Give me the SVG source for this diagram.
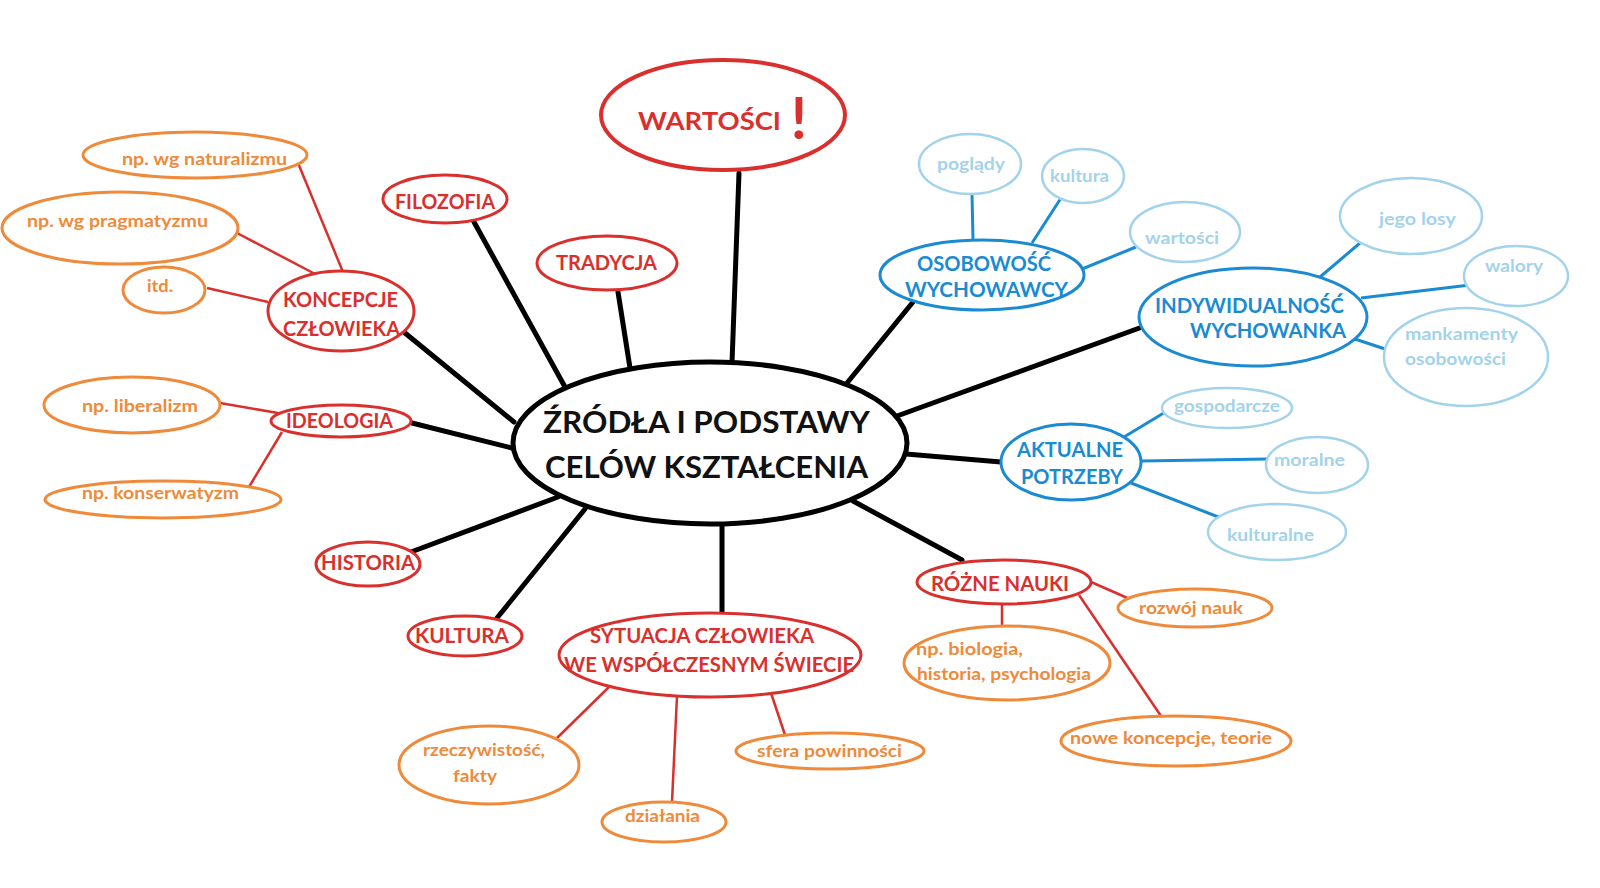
<svg xmlns="http://www.w3.org/2000/svg" width="1600" height="888" viewBox="0 0 1600 888">
<style>
text{font-family:Lato,"Open Sans","DejaVu Sans",sans-serif;font-weight:bold;}
.c{fill:#fff;stroke:#000;stroke-width:5}
.r{fill:#fff;stroke:#d9302e;stroke-width:3}
.o{fill:#fff;stroke:#ef8a3a;stroke-width:3}
.b{fill:#fff;stroke:#1a8bd3;stroke-width:3}
.lb{fill:#fff;stroke:#a3d3ea;stroke-width:2.5}
.tc{fill:#111;font-size:30px}
.tr{fill:#d9302e;font-size:20px}
.to{fill:#ef8a3a;font-size:17px}
.tb{fill:#1a8bd3;font-size:20px}
.tlb{fill:#a3d3ea;font-size:17px}
.k{stroke:#000;stroke-width:5;stroke-linecap:round}
.lr{stroke:#d9302e;stroke-width:2.5}
.lbl{stroke:#1a8bd3;stroke-width:3}
</style>
<rect width="1600" height="888" fill="#fff"/>
<g id="connectors">
<line class="k" x1="405" y1="333" x2="514" y2="422"/>
<line class="k" x1="474" y1="222" x2="565" y2="387"/>
<line class="k" x1="618" y1="292" x2="630" y2="368"/>
<line class="k" x1="739" y1="173" x2="732" y2="363"/>
<line class="k" x1="913" y1="302" x2="847" y2="383"/>
<line class="k" x1="1145" y1="326" x2="897" y2="416"/>
<line class="k" x1="1001" y1="462" x2="906" y2="454"/>
<line class="k" x1="962" y1="560" x2="853" y2="501"/>
<line class="k" x1="722" y1="613" x2="722" y2="527"/>
<line class="k" x1="497" y1="618" x2="585" y2="509"/>
<line class="k" x1="411" y1="552" x2="558" y2="497"/>
<line class="k" x1="412" y1="423" x2="512" y2="448"/>
<line class="lr" x1="298" y1="163" x2="343" y2="272"/>
<line class="lr" x1="237" y1="233" x2="317" y2="275"/>
<line class="lr" x1="207" y1="288" x2="268" y2="302"/>
<line class="lr" x1="220" y1="403" x2="278" y2="413"/>
<line class="lr" x1="282" y1="432" x2="249" y2="487"/>
<line class="lr" x1="609" y1="687" x2="557" y2="738"/>
<line class="lr" x1="677" y1="696" x2="672" y2="802"/>
<line class="lr" x1="771" y1="693" x2="785" y2="735"/>
<line class="lr" x1="1091" y1="582" x2="1132" y2="600"/>
<line class="lr" x1="1002" y1="603" x2="1002" y2="626"/>
<line class="lr" x1="1079" y1="595" x2="1163" y2="719"/>
<line class="lbl" x1="972" y1="194" x2="973" y2="240"/>
<line class="lbl" x1="1061" y1="198" x2="1032" y2="243"/>
<line class="lbl" x1="1136" y1="247" x2="1082" y2="269"/>
<line class="lbl" x1="1360" y1="243" x2="1320" y2="277"/>
<line class="lbl" x1="1470" y1="285" x2="1361" y2="298"/>
<line class="lbl" x1="1388" y1="350" x2="1355" y2="339"/>
<line class="lbl" x1="1167" y1="411" x2="1124" y2="437"/>
<line class="lbl" x1="1141" y1="461" x2="1268" y2="459"/>
<line class="lbl" x1="1131" y1="483" x2="1221" y2="518"/>
</g>
<g id="center"><ellipse class="c" cx="710" cy="443" rx="197" ry="81"/>
<text class="tc" x="543" y="433" textLength="327" lengthAdjust="spacingAndGlyphs">ŹRÓDŁA I PODSTAWY</text>
<text class="tc" x="545" y="478" textLength="323" lengthAdjust="spacingAndGlyphs">CELÓW KSZTAŁCENIA</text></g>
<g id="wartosci"><ellipse class="r" style="stroke-width:4" cx="723" cy="115" rx="122" ry="55"/>
<text class="tr" style="font-size:25px" x="638" y="130" textLength="143" lengthAdjust="spacingAndGlyphs">WARTOŚCI</text>
<text class="tr" style="font-size:58px" x="799" y="139" text-anchor="middle">!</text></g>
<g id="filozofia"><ellipse class="r" cx="445" cy="199" rx="62" ry="24"/>
<text class="tr" x="395" y="209" textLength="100" lengthAdjust="spacingAndGlyphs">FILOZOFIA</text></g>
<g id="tradycja"><ellipse class="r" cx="607" cy="263" rx="70" ry="27"/>
<text class="tr" x="556" y="270" textLength="101" lengthAdjust="spacingAndGlyphs">TRADYCJA</text></g>
<g id="koncepcje"><ellipse class="r" cx="341" cy="311" rx="73" ry="40"/>
<text class="tr" x="283" y="307" textLength="115" lengthAdjust="spacingAndGlyphs">KONCEPCJE</text>
<text class="tr" x="283" y="336" textLength="117" lengthAdjust="spacingAndGlyphs">CZŁOWIEKA</text></g>
<g id="ideologia"><ellipse class="r" cx="341" cy="421" rx="70" ry="16"/>
<text class="tr" x="286" y="428" textLength="107" lengthAdjust="spacingAndGlyphs">IDEOLOGIA</text></g>
<g id="historia"><ellipse class="r" cx="368" cy="564" rx="52" ry="22"/>
<text class="tr" x="321" y="570" textLength="94" lengthAdjust="spacingAndGlyphs">HISTORIA</text></g>
<g id="kultura"><ellipse class="r" cx="465" cy="636" rx="57" ry="20"/>
<text class="tr" x="415" y="643" textLength="94" lengthAdjust="spacingAndGlyphs">KULTURA</text></g>
<g id="sytuacja"><ellipse class="r" cx="710" cy="655" rx="151" ry="42"/>
<text class="tr" x="590" y="643" textLength="224" lengthAdjust="spacingAndGlyphs">SYTUACJA CZŁOWIEKA</text>
<text class="tr" x="564" y="672" textLength="290" lengthAdjust="spacingAndGlyphs">WE WSPÓŁCZESNYM ŚWIECIE</text></g>
<g id="rozne-nauki"><ellipse class="r" cx="1004" cy="582" rx="87" ry="22"/>
<text class="tr" x="931" y="591" textLength="138" lengthAdjust="spacingAndGlyphs">RÓŻNE NAUKI</text></g>
<g id="naturalizm"><ellipse class="o" cx="195" cy="155" rx="112" ry="23"/>
<text class="to" x="122" y="165" textLength="165" lengthAdjust="spacingAndGlyphs">np. wg naturalizmu</text></g>
<g id="pragmatyzm"><ellipse class="o" cx="120" cy="228" rx="118" ry="36"/>
<text class="to" x="27" y="227" textLength="181" lengthAdjust="spacingAndGlyphs">np. wg pragmatyzmu</text></g>
<g id="itd"><ellipse class="o" cx="164" cy="290" rx="41" ry="23"/>
<text class="to" x="147" y="292" textLength="26" lengthAdjust="spacingAndGlyphs">itd.</text></g>
<g id="liberalizm"><ellipse class="o" cx="132" cy="405" rx="88" ry="28"/>
<text class="to" x="82" y="412" textLength="116" lengthAdjust="spacingAndGlyphs">np. liberalizm</text></g>
<g id="konserwatyzm"><ellipse class="o" cx="163" cy="499.5" rx="118" ry="18.5"/>
<text class="to" x="82" y="499" textLength="157" lengthAdjust="spacingAndGlyphs">np. konserwatyzm</text></g>
<g id="rzeczywistosc"><ellipse class="o" cx="489" cy="765" rx="90" ry="39"/>
<text class="to" x="423" y="756" textLength="122" lengthAdjust="spacingAndGlyphs">rzeczywistość,</text>
<text class="to" x="453" y="782" textLength="44" lengthAdjust="spacingAndGlyphs">fakty</text></g>
<g id="dzialania"><ellipse class="o" cx="664" cy="822" rx="62" ry="20"/>
<text class="to" x="625" y="822" textLength="75" lengthAdjust="spacingAndGlyphs">działania</text></g>
<g id="sfera"><ellipse class="o" cx="830" cy="751" rx="94" ry="18"/>
<text class="to" x="757" y="757" textLength="145" lengthAdjust="spacingAndGlyphs">sfera powinności</text></g>
<g id="rozwoj"><ellipse class="o" cx="1195" cy="608" rx="77" ry="19"/>
<text class="to" x="1139" y="614" textLength="104" lengthAdjust="spacingAndGlyphs">rozwój nauk</text></g>
<g id="biologia"><ellipse class="o" cx="1007" cy="663" rx="103" ry="37"/>
<text class="to" x="916" y="655" textLength="107" lengthAdjust="spacingAndGlyphs">np. biologia,</text>
<text class="to" x="917" y="680" textLength="174" lengthAdjust="spacingAndGlyphs">historia, psychologia</text></g>
<g id="nowe"><ellipse class="o" cx="1176" cy="741" rx="115" ry="25"/>
<text class="to" x="1070" y="744" textLength="202" lengthAdjust="spacingAndGlyphs">nowe koncepcje, teorie</text></g>
<g id="osobowosc"><ellipse class="b" cx="982" cy="275" rx="102" ry="35"/>
<text class="tb" x="917" y="271" textLength="134" lengthAdjust="spacingAndGlyphs">OSOBOWOŚĆ</text>
<text class="tb" x="905" y="297" textLength="163" lengthAdjust="spacingAndGlyphs">WYCHOWAWCY</text></g>
<g id="indywidualnosc"><ellipse class="b" cx="1253" cy="317" rx="114" ry="49"/>
<text class="tb" x="1155" y="313" textLength="189" lengthAdjust="spacingAndGlyphs">INDYWIDUALNOŚĆ</text>
<text class="tb" x="1190" y="338" textLength="156" lengthAdjust="spacingAndGlyphs">WYCHOWANKA</text></g>
<g id="aktualne"><ellipse class="b" cx="1071" cy="462" rx="70" ry="38"/>
<text class="tb" x="1017" y="457" textLength="106" lengthAdjust="spacingAndGlyphs">AKTUALNE</text>
<text class="tb" x="1021" y="484" textLength="102" lengthAdjust="spacingAndGlyphs">POTRZEBY</text></g>
<g id="poglady"><ellipse class="lb" cx="970" cy="164" rx="51" ry="30"/>
<text class="tlb" x="937" y="170" textLength="68" lengthAdjust="spacingAndGlyphs">poglądy</text></g>
<g id="kultura-w"><ellipse class="lb" cx="1083" cy="176" rx="41" ry="27"/>
<text class="tlb" x="1050" y="182" textLength="59" lengthAdjust="spacingAndGlyphs">kultura</text></g>
<g id="wartosci-w"><ellipse class="lb" cx="1185" cy="232" rx="55" ry="30"/>
<text class="tlb" x="1145" y="244" textLength="74" lengthAdjust="spacingAndGlyphs">wartości</text></g>
<g id="losy"><ellipse class="lb" cx="1411" cy="216" rx="71" ry="38"/>
<text class="tlb" x="1379" y="225" textLength="77" lengthAdjust="spacingAndGlyphs">jego losy</text></g>
<g id="walory"><ellipse class="lb" cx="1516" cy="276" rx="52" ry="30"/>
<text class="tlb" x="1485" y="272" textLength="58" lengthAdjust="spacingAndGlyphs">walory</text></g>
<g id="mankamenty"><ellipse class="lb" cx="1466" cy="357" rx="82" ry="49"/>
<text class="tlb" x="1405" y="340" textLength="113" lengthAdjust="spacingAndGlyphs">mankamenty</text>
<text class="tlb" x="1405" y="365" textLength="101" lengthAdjust="spacingAndGlyphs">osobowości</text></g>
<g id="gospodarcze"><ellipse class="lb" cx="1227" cy="408" rx="65" ry="20"/>
<text class="tlb" x="1174" y="412" textLength="106" lengthAdjust="spacingAndGlyphs">gospodarcze</text></g>
<g id="moralne"><ellipse class="lb" cx="1317" cy="465" rx="51" ry="28"/>
<text class="tlb" x="1274" y="466" textLength="71" lengthAdjust="spacingAndGlyphs">moralne</text></g>
<g id="kulturalne"><ellipse class="lb" cx="1277" cy="532" rx="69" ry="28"/>
<text class="tlb" x="1227" y="541" textLength="87" lengthAdjust="spacingAndGlyphs">kulturalne</text></g>
</svg>
